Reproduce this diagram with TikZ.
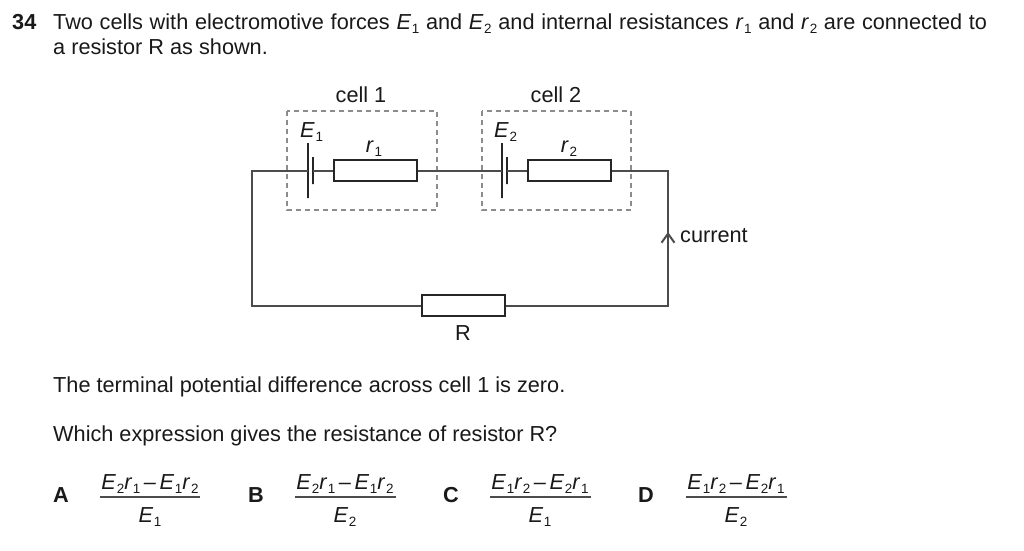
\documentclass[tikz,border=0pt]{standalone}
\usepackage{fontspec}
\usepackage{graphicx}
\setmainfont{Liberation Sans}
\usetikzlibrary{arrows.meta}
\newcommand{\qsym}[2]{\textit{#1}\kern0.03em\raisebox{-0.2em}{\scalebox{0.62}{#2}}}
\tikzset{
  txt/.style={inner sep=0pt, anchor=base west, text=black!90, font=\fontsize{21.7}{26}\selectfont},
  ctxt/.style={txt, anchor=base},
  optlabel/.style={txt, anchor=base, font=\fontsize{21.7}{26}\selectfont\bfseries},
  conn/.style={draw=black!70, line width=2pt},
  resistor/.style={draw=black!85, line width=1.7pt, fill=white, minimum width=83pt, minimum height=21pt, inner sep=0pt},
  longplate/.style={draw=black!85, line width=1.7pt, minimum width=0pt, minimum height=55pt, inner sep=0pt},
  shortplate/.style={draw=black!85, line width=1.7pt, minimum width=0pt, minimum height=27pt, inner sep=0pt},
  cellbox/.style={draw=black!45, line width=1.1pt, dash pattern=on 5pt off 4pt},
  fracbar/.style={line width=1.2pt, black!70}
}
\begin{document}
\begin{tikzpicture}[x=1pt,y=-1pt]
\useasboundingbox (0,0) rectangle (1024,550);
\node[txt, font=\fontsize{21.7}{26}\selectfont\bfseries] (qnum) at (12,29) {34};
\node[txt] (line1) at (53,29) {\spaceskip=6.68pt Two cells with electromotive forces \qsym{E}{1} and \qsym{E}{2} and internal resistances \qsym{r}{1} and \qsym{r}{2} are connected to};
\node[txt] (line2) at (53,54) {a resistor R as shown.};
\node[ctxt] (cell1) at (361,102) {cell 1};
\node[ctxt] (cell2) at (556,102) {cell 2};
\draw[cellbox] (287,111) rectangle (437,210);
\draw[cellbox] (482,111) rectangle (631,210);
\coordinate (tl) at (252,170);
\coordinate (tr) at (668,170);
\node[longplate] (emf1) at (308,170.5) {};
\node[shortplate] (back1) at (313,170.5) {};
\node[resistor] (r1) at (375.5,170.5) {};
\node[longplate] (emf2) at (502,170.5) {};
\node[shortplate] (back2) at (507,170.5) {};
\node[resistor] (r2) at (569.5,170.5) {};
\node[resistor] (R) at (463.5,305.5) {};
\draw[conn, line join=miter] (emf1.center) -- (emf1 -| tl) -- (R.west -| tl) -- (R.west);
\draw[conn] (back1.center) -- (r1.west);
\draw[conn] (r1.east) -- (emf2.center);
\draw[conn] (back2.center) -- (r2.west);
\draw[conn, line join=miter] (r2.east) -- (r2.east -| tr) -- (R.east -| tr) -- (R.east);
\coordinate (arrowtail) at (668,250);
\coordinate (arrowtip) at (668,232);
\draw[conn, -{Straight Barb[length=9pt,width=13pt]}] (arrowtail) -- (arrowtip);
\node[txt] (E1) at (300,137) {\qsym{E}{1}};
\node[txt] (E2) at (494,137) {\qsym{E}{2}};
\node[ctxt] (r1lab) at (374,152) {\qsym{r}{1}};
\node[ctxt] (r2lab) at (569,152) {\qsym{r}{2}};
\node[ctxt] (Rlab) at (463,340) {R};
\node[txt] (current) at (680,242) {current};
\node[txt] (line3) at (53,392) {The terminal potential difference across cell 1 is zero.};
\node[txt] (line4) at (53,441) {Which expression gives the resistance of resistor R?};
\node[optlabel] (optA) at (61,502) {A};
\node[ctxt] (numA) at (150,489) {\qsym{E}{2}\qsym{r}{1}\,--\,\qsym{E}{1}\qsym{r}{2}};
\coordinate (barAl) at (100,497);
\coordinate (barAr) at (200,497);
\draw[fracbar] (barAl) -- (barAr);
\node[ctxt] (denA) at (150,522) {\qsym{E}{1}};
\node[optlabel] (optB) at (256,502) {B};
\node[ctxt] (numB) at (345,489) {\qsym{E}{2}\qsym{r}{1}\,--\,\qsym{E}{1}\qsym{r}{2}};
\coordinate (barBl) at (295,497);
\coordinate (barBr) at (396,497);
\draw[fracbar] (barBl) -- (barBr);
\node[ctxt] (denB) at (345,522) {\qsym{E}{2}};
\node[optlabel] (optC) at (451,502) {C};
\node[ctxt] (numC) at (540,489) {\qsym{E}{1}\qsym{r}{2}\,--\,\qsym{E}{2}\qsym{r}{1}};
\coordinate (barCl) at (490,497);
\coordinate (barCr) at (591,497);
\draw[fracbar] (barCl) -- (barCr);
\node[ctxt] (denC) at (540,522) {\qsym{E}{1}};
\node[optlabel] (optD) at (646,502) {D};
\node[ctxt] (numD) at (736,489) {\qsym{E}{1}\qsym{r}{2}\,--\,\qsym{E}{2}\qsym{r}{1}};
\coordinate (barDl) at (686,497);
\coordinate (barDr) at (787,497);
\draw[fracbar] (barDl) -- (barDr);
\node[ctxt] (denD) at (736,522) {\qsym{E}{2}};
\end{tikzpicture}
\end{document}
